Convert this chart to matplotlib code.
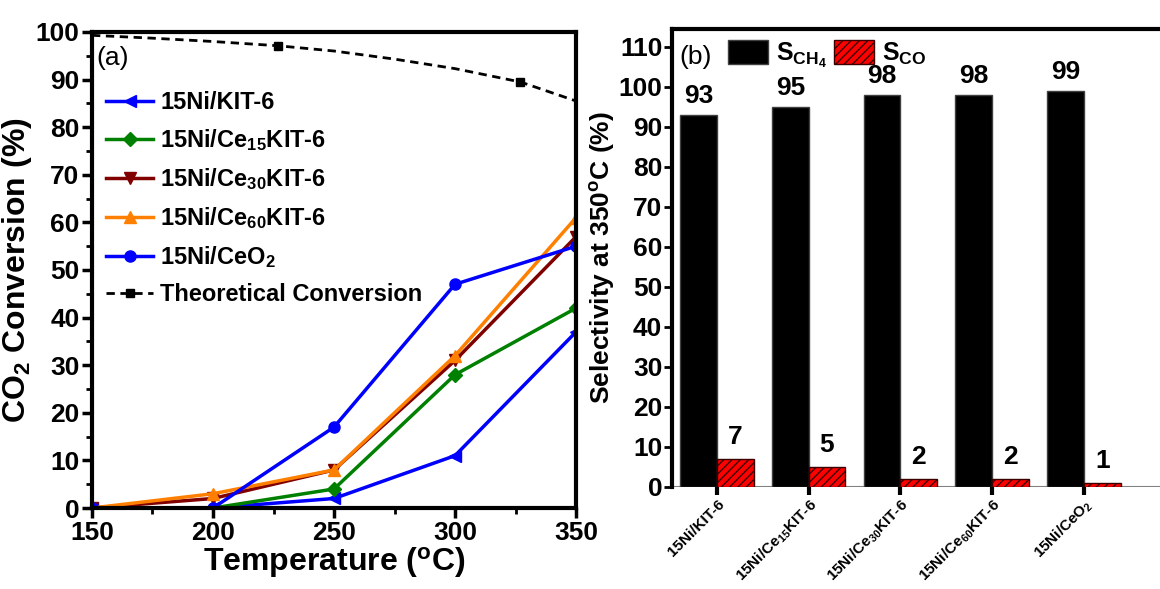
import matplotlib
matplotlib.use("Agg")
import matplotlib.pyplot as plt
from matplotlib.ticker import MultipleLocator
import numpy as np

plt.rcParams['font.family'] = ['Liberation Sans', 'DejaVu Sans']
plt.rcParams['font.weight'] = 'bold'
plt.rcParams['axes.labelweight'] = 'bold'
plt.rcParams['mathtext.fontset'] = 'custom'
plt.rcParams['mathtext.rm'] = 'Liberation Sans:bold'
plt.rcParams['mathtext.it'] = 'Liberation Sans:bold'
plt.rcParams['mathtext.bf'] = 'Liberation Sans:bold'
plt.rcParams['hatch.linewidth'] = 1.0

# (a) CO2 conversion vs temperature
temps = [150, 200, 250, 300, 350]
kit6 = [0, 0, 2, 11, 37]
ce15 = [0, 0, 4, 28, 42]
ce30 = [0, 2, 8, 31, 57]
ce60 = [0, 3, 8, 32, 61]
ceo2 = [0, 0, 17, 47, 55]
theo_t = [150, 175, 200, 227, 250, 275, 300, 327, 350]
theo_c = [99.3, 98.7, 98.0, 97.1, 96.0, 94.3, 92.3, 89.5, 85.5]

# (b) selectivity at 350 C
catalysts = ['15Ni/KIT-6', '15Ni/Ce$_{15}$KIT-6', '15Ni/Ce$_{30}$KIT-6',
             '15Ni/Ce$_{60}$KIT-6', '15Ni/CeO$_2$']
s_ch4 = [93, 95, 98, 98, 99]
s_co = [7, 5, 2, 2, 1]

fig = plt.figure(figsize=(11.6, 5.89), dpi=100)

# ---- left panel
ax = fig.add_axes([0.0793, 0.1375, 0.4173, 0.8082])
ax.plot(temps, kit6, color='#0000ff', marker='<', ms=9, lw=2.5, label='15Ni/KIT-6')
ax.plot(temps, ce15, color='#008000', marker='D', ms=7, lw=2.5, label='15Ni/Ce$_{15}$KIT-6')
ax.plot(temps, ce30, color='#800000', marker='v', ms=9, lw=2.5, label='15Ni/Ce$_{30}$KIT-6')
ax.plot(temps, ce60, color='#ff8000', marker='^', ms=9, lw=2.5, label='15Ni/Ce$_{60}$KIT-6')
ax.plot(temps, ceo2, color='#0000ff', marker='o', ms=8, lw=2.5, label='15Ni/CeO$_2$')
ax.plot(theo_t, theo_c, color='black', ls=(0, (3, 2)), lw=2, marker='s', ms=6,
        markevery=[3, 7], label='Theoretical Conversion')
ax.set_xlim(150, 350)
ax.set_ylim(0, 100)
ax.xaxis.set_major_locator(MultipleLocator(50))
ax.xaxis.set_minor_locator(MultipleLocator(25))
ax.yaxis.set_major_locator(MultipleLocator(10))
ax.yaxis.set_minor_locator(MultipleLocator(5))
ax.tick_params(which='major', direction='out', length=7, width=2.5, labelsize=19, pad=2)
ax.tick_params(which='minor', direction='out', length=4, width=2)
for sp in ax.spines.values():
    sp.set_linewidth(3)
ax.set_xlabel('Temperature ($^{o}$C)', fontsize=23, labelpad=0)
ax.set_ylabel('CO$_2$ Conversion (%)', fontsize=23, labelpad=1)
ax.text(0.01, 0.97, '(a)', transform=ax.transAxes, fontsize=19, va='top', ha='left',
        fontweight='normal')
ax.legend(loc='upper left', bbox_to_anchor=(-0.005, 0.91), frameon=False, fontsize=17,
          handlelength=2.0, handletextpad=0.3, labelspacing=0.55, borderpad=0.2)

# ---- right panel
bx = fig.add_axes([0.5793, 0.1732, 0.45, 0.7776])
x = np.arange(len(catalysts))
w = 0.4
bx.bar(x - w / 2, s_ch4, w, color='black', edgecolor='#404040', lw=1, label='S$_{CH_4}$')
bx.bar(x + w / 2, s_co, w, color='#ff0000', edgecolor='#3a0000', lw=1, hatch='////',
       label='S$_{CO}$')
for xi, v in zip(x, s_ch4):
    bx.text(xi - w / 2, v + 4.8, str(v), ha='center', va='center', fontsize=19)
for xi, v in zip(x, s_co):
    bx.text(xi + w / 2, v + 5.5, str(v), ha='center', va='center', fontsize=19)
bx.axhline(0, color='#808080', lw=1.5, zorder=0)
bx.set_xlim(-0.49, 5.2)
bx.set_ylim(0, 114.5)
bx.set_xticks(x)
bx.set_xticklabels(catalysts, rotation=45, ha='right', rotation_mode='anchor', fontsize=11)
bx.yaxis.set_major_locator(MultipleLocator(10))
bx.tick_params(axis='y', direction='out', length=6, width=2, labelsize=19, pad=1)
bx.tick_params(axis='x', direction='out', length=6, width=3, pad=1)
for sp in bx.spines.values():
    sp.set_linewidth(3)
bx.spines['bottom'].set_visible(False)
bx.set_ylabel('Selectivity at 350$^{o}$C (%)', fontsize=19, labelpad=1)
bx.text(0.015, 0.965, '(b)', transform=bx.transAxes, fontsize=19, va='top', ha='left',
        fontweight='normal')
bx.legend(loc='upper left', bbox_to_anchor=(0.065, 1.025), ncol=2, frameon=False, fontsize=18,
          handlelength=1.6, handleheight=1.1, handletextpad=0.3, columnspacing=0.3)

fig.savefig('out.png', dpi=100)
